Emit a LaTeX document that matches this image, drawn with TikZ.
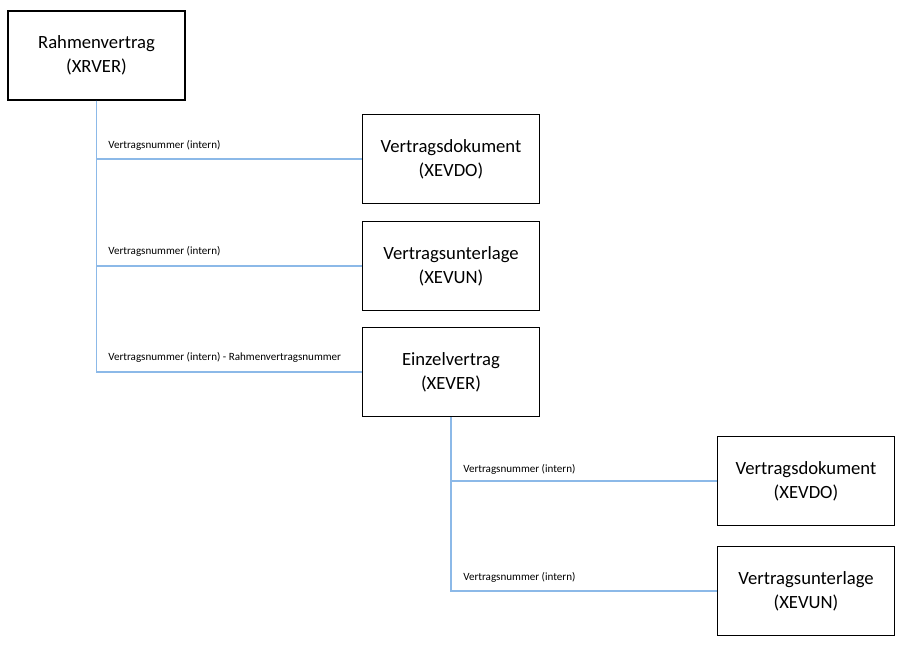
\documentclass[tikz,border=0pt]{standalone}
\usepackage{fontspec}
\setmainfont{Carlito}
\begin{document}
\begin{tikzpicture}[x=0.75pt,y=-0.75pt,
  box/.style={draw=black,line width=1.1pt,minimum width=177*0.75pt,minimum height=89*0.75pt,
    align=center,font=\fontsize{14pt}{18pt}\selectfont,inner sep=0pt},
  conn/.style={draw={rgb,255:red,140;green,185;blue,232},line width=0.8pt},
  lbl/.style={anchor=base west,font=\fontsize{8.3pt}{10pt}\selectfont,inner sep=0pt}]
\useasboundingbox (0,0) rectangle (906,648);
\node[box] (b1) at (96.5,55.5) {Rahmenvertrag\\(XRVER)};
\node[box] (b2) at (451,159) {Vertragsdokument\\(XEVDO)};
\node[box] (b3) at (451,266) {Vertragsunterlage\\(XEVUN)};
\node[box] (b4) at (451,372) {Einzelvertrag\\(XEVER)};
\node[box] (b5) at (806,481) {Vertragsdokument\\(XEVDO)};
\node[box] (b6) at (806,591) {Vertragsunterlage\\(XEVUN)};
\draw[conn] (b1.south) |- (b2.west);
\draw[conn] (b1.south) |- (b3.west);
\draw[conn] (b1.south) |- (b4.west);
\draw[conn] (b4.south) |- (b5.west);
\draw[conn] (b4.south) |- (b6.west);
\node[lbl] (l1) at (108,149) {Vertragsnummer (intern)};
\node[lbl] (l2) at (108,255) {Vertragsnummer (intern)};
\node[lbl] (l3) at (108,360) {Vertragsnummer (intern) - Rahmenvertragsnummer};
\node[lbl] (l4) at (463,472) {Vertragsnummer (intern)};
\node[lbl] (l5) at (463,580) {Vertragsnummer (intern)};
\end{tikzpicture}
\end{document}
